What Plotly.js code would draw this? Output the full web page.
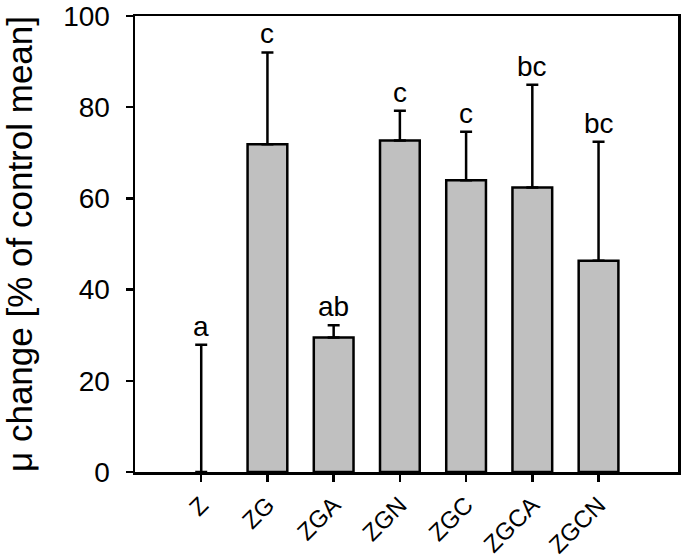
<!DOCTYPE html>
<html>
<head>
<meta charset="utf-8">
<script src="https://cdn.plot.ly/plotly-3.0.1.min.js"></script>
<style>
  html, body { margin: 0; padding: 0; background: #fff; }
  #chart { width: 686px; height: 558px; }
</style>
</head>
<body>
<div id="chart"></div>
<script>
// treatments and their mean change, upper error and significance letters
var groups = ['Z', 'ZG', 'ZGA', 'ZGN', 'ZGC', 'ZGCA', 'ZGCN']
var means = [0, 71.9, 29.5, 72.7, 64.0, 62.4, 46.3]
var errors = [27.9, 20.1, 2.7, 6.5, 10.6, 22.5, 26.1]
var letters = ['a', 'c', 'ab', 'c', 'c', 'bc', 'bc']

var font_name = 'Liberation Sans, Arial, sans-serif'

var trace = {
  type: 'bar',
  x: groups,
  y: means,
  width: 0.6,
  marker: {
    color: '#c0c0c0',
    // no outline where the bar is empty
    line: {color: '#000', width: means.map(m => m > 0 ? 2.5 : 0)}
  },
  error_y: {
    type: 'data',
    symmetric: false,
    array: errors,
    arrayminus: groups.map(() => 0),
    color: '#000',
    thickness: 2.5,
    width: 6
  },
  hoverinfo: 'skip'
}

// letters sit just above each error cap
var annotations = groups.map((g, i) => ({
  x: g,
  y: means[i] + errors[i],
  text: letters[i],
  showarrow: false,
  xanchor: 'center',
  yanchor: 'bottom',
  yshift: 1,
  font: {family: font_name, size: 28, color: '#000'}
}))

var layout = {
  width: 686,
  height: 558,
  margin: {l: 135, r: 8, t: 16, b: 86},
  paper_bgcolor: '#fff',
  plot_bgcolor: '#fff',
  showlegend: false,
  font: {family: font_name, color: '#000'},
  xaxis: {
    type: 'category',
    range: [-1, 7.2],
    tickangle: -45,
    ticks: 'outside',
    ticklen: 7,
    tickwidth: 2.5,
    tickcolor: '#000',
    tickfont: {family: font_name, size: 24, color: '#000'},
    showline: true,
    linecolor: '#000',
    linewidth: 2.5,
    mirror: true,
    showgrid: false,
    zeroline: false,
    fixedrange: true
  },
  yaxis: {
    range: [0, 100],
    tickvals: [0, 20, 40, 60, 80, 100],
    ticks: 'outside',
    ticklen: 7,
    tickwidth: 2.5,
    tickcolor: '#000',
    ticklabelstandoff: 10,
    tickfont: {family: font_name, size: 28, color: '#000'},
    showline: true,
    linecolor: '#000',
    linewidth: 2.5,
    mirror: true,
    showgrid: false,
    zeroline: false,
    title: {text: 'μ change [% of control mean]', font: {family: font_name, size: 35, color: '#000'}, standoff: 20},
    fixedrange: true
  },
  annotations: annotations
}

Plotly.newPlot('chart', [trace], layout, {displayModeBar: false, staticPlot: true})
</script>
</body>
</html>
